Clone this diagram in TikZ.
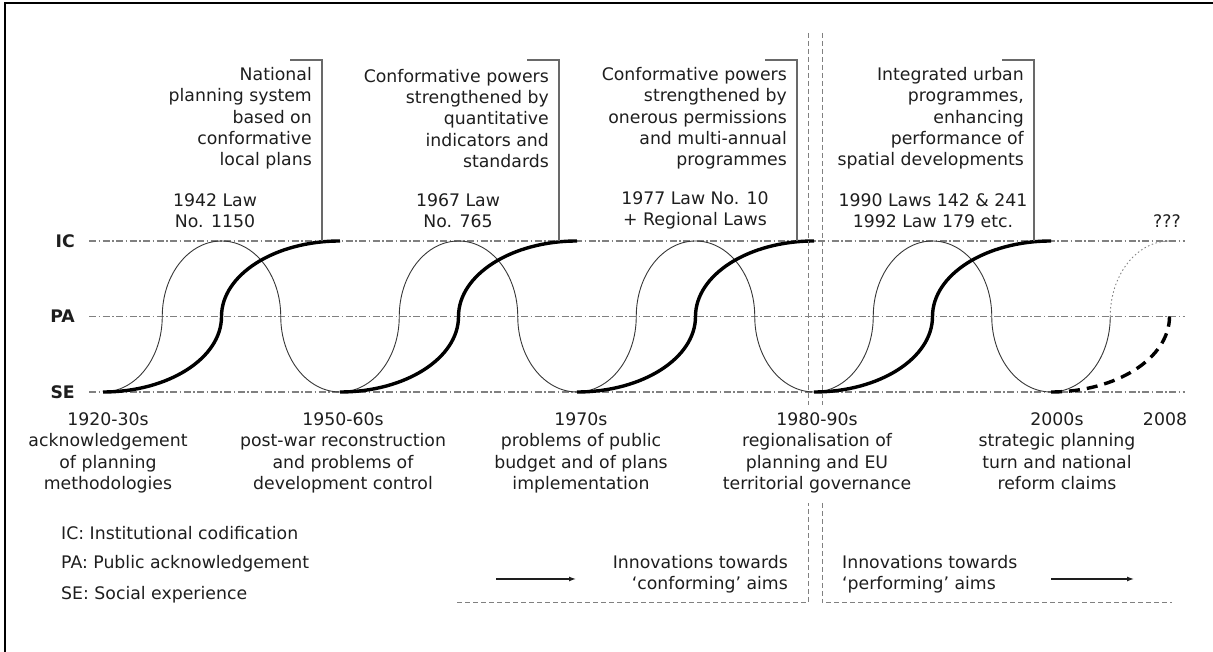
\documentclass[tikz,border=0pt]{standalone}
\usepackage{fontspec}
\setmainfont{DejaVu Sans}
\usetikzlibrary{positioning}
\usetikzlibrary{arrows.meta}
\definecolor{AxisGrey}{RGB}{128,128,128}
\definecolor{RuleGrey}{RGB}{105,105,105}
\definecolor{WaveGrey}{RGB}{55,55,55}
\definecolor{InkBlack}{RGB}{30,30,30}
\newcommand{\figfont}{\fontsize{17.3}{21.3}\selectfont}

\begin{document}
\begin{tikzpicture}[x=1pt, y=1pt, text=InkBlack,
 level/.style = {draw=AxisGrey, line width=1.1pt, dash pattern=on 7pt off 2.5pt on 1.5pt off 2.5pt},
 levelname/.style = {anchor=east, inner sep=0pt, font=\figfont\bfseries},
 note/.style = {anchor=east, align=right, inner sep=0pt, font=\figfont},
 law/.style = {align=center, inner sep=0pt, font=\figfont},
 period/.style = {anchor=north, align=center, inner sep=0pt, font=\figfont},
 key/.style = {anchor=west, inner sep=0pt, font=\figfont},
 thinwave/.style = {draw=WaveGrey, line width=0.9pt},
 thickwave/.style = {draw=black, line width=3.4pt},
 bracket/.style = {draw=RuleGrey, line width=1.2pt},
 divider/.style = {draw=AxisGrey, line width=1pt, dash pattern=on 5pt off 3pt},
 trend/.style = {draw=InkBlack, line width=1.3pt, -{Latex[length=7pt,width=5pt]}},
 ]

    \useasboundingbox (0,0) rectangle (1213,652);
    \draw [line width=2pt] (5,0) -- (5,649) -- (1213,649);

    % levels IC / PA / SE
    \foreach \lv/\y in {IC/411,PA/335.5,SE/260}{
      \node [levelname] (\lv) at (75,\y) {\lv};
      \draw [level] (\lv.east) ++(14,0) -- ++(1096,0);
    }

    % thin wave and thick steps
    \draw [thinwave] (103,260) arc[start angle=-90, end angle=0, x radius=59.25, y radius=75.5]
       \foreach \k in {1,...,4}{
         arc[start angle=180, end angle=0, x radius=59.25, y radius=75.5]
         arc[start angle=180, end angle=360, x radius=59.25, y radius=75.5]};
    \coordinate (waveEnd) at (1110.25,335.5);
    \draw [thinwave, draw=AxisGrey, dash pattern=on 1.5pt off 2.5pt] (waveEnd)
       arc[start angle=180, end angle=90, x radius=59.25, y radius=75.5];

    \foreach \x in {103,340,577,814}
      \draw [thickwave] (\x,260) arc[start angle=-90, end angle=0, x radius=118.5, y radius=75.5]
                                  arc[start angle=180, end angle=90, x radius=118.5, y radius=75.5];
    \draw [thickwave, dash pattern=on 11pt off 7pt] (1051,260)
       arc[start angle=-90, end angle=0, x radius=118.5, y radius=75.5];

    % innovations at the top
    \node [note] (noteNational) at (312,533.5) {National\\planning system\\based on\\conformative\\local plans};
    \node [note] (noteStandards) at (549,533.5) {Conformative powers\\strengthened by\\quantitative\\indicators and\\standards};
    \node [note] (notePermissions) at (787,533.5) {Conformative powers\\strengthened by\\onerous permissions\\and multi-annual\\programmes};
    \node [note] (notePerformance) at (1024,533.5) {Integrated urban\\programmes,\\enhancing\\performance of\\spatial developments};

    \foreach \n/\bx in {National/322,Standards/559,Permissions/797,Performance/1034}{
      \coordinate (tag\n) at (\bx,592);
      \draw [bracket] (tag\n) ++(-32,0) -- (tag\n) -- (tag\n |- IC);
    }

    \node [law] (lawNational) at (215,441.5) {1942 Law\\No. 1150};
    \node [law] (lawStandards) at (458,441.5) {1967 Law\\No. 765};
    \node [law] (lawPermissions) at (695,441.5) {1977 Law No. 10\\+ Regional Laws};
    \node [law] (lawPerformance) at (933,441.5) {1990 Laws 142 \& 241\\1992 Law 179 etc.};
    \node [law] (lawUnknown) at (1167,431) {???};

    % periods
    \node [period] (p1920) at (108,239.5) {1920-30s\\acknowledgement\\of planning\\methodologies};
    \node [period] (p1950) at (343,239.5) {1950-60s\\post-war reconstruction\\and problems of\\development control};
    \node [period] (p1970) at (581,239.5) {1970s\\problems of public\\budget and of plans\\implementation};
    \node [period] (p1980) at (817,239.5) {1980-90s\\regionalisation of\\planning and EU\\territorial governance};
    \node [period] (p2000) at (1057,239.5) {2000s\\strategic planning\\turn and national\\reform claims};
    \node [period] (p2008) at (1165,239.5) {2008};

    % split between conforming and performing
    \coordinate (splitTopL) at (808,619);
    \coordinate (splitTopR) at (822,619);
    \coordinate (splitMidL) at (808,149);
    \coordinate (splitMidR) at (822,149);
    \coordinate (splitEndL) at (457,49);
    \coordinate (splitEndR) at (1172,49);
    \draw [divider] (splitTopL) -- ++(0,-372);
    \draw [divider] (splitTopR) -- ++(0,-372);
    \draw [divider] (splitEndL) -- (splitEndL -| splitMidL) -- (splitMidL);
    \draw [divider] (splitMidR) -- (splitMidR |- splitEndR) -- (splitEndR);

    \node [anchor=east, align=right, inner sep=0pt, font=\figfont] (conforming) at (788,78) {Innovations towards\\‘conforming’ aims};
    \node [anchor=west, align=left, inner sep=0pt, font=\figfont] (performing) at (842,78) {Innovations towards\\‘performing’ aims};
    \coordinate (conformFrom) at (496,73);
    \coordinate (conformTo) at (576,73);
    \coordinate (performFrom) at (1051,73);
    \coordinate (performTo) at (1134,73);
    \draw [trend] (conformFrom) -- (conformTo);
    \draw [trend] (performFrom) -- (performTo);

    % legend
    \node [key] (keyIC) at (61,119) {IC: Institutional codification};
    \node [key] (keyPA) at ([yshift=-31pt]keyIC.west) {PA: Public acknowledgement};
    \node [key] (keySE) at ([yshift=-31pt]keyPA.west) {SE: Social experience};

\end{tikzpicture}
\end{document}
